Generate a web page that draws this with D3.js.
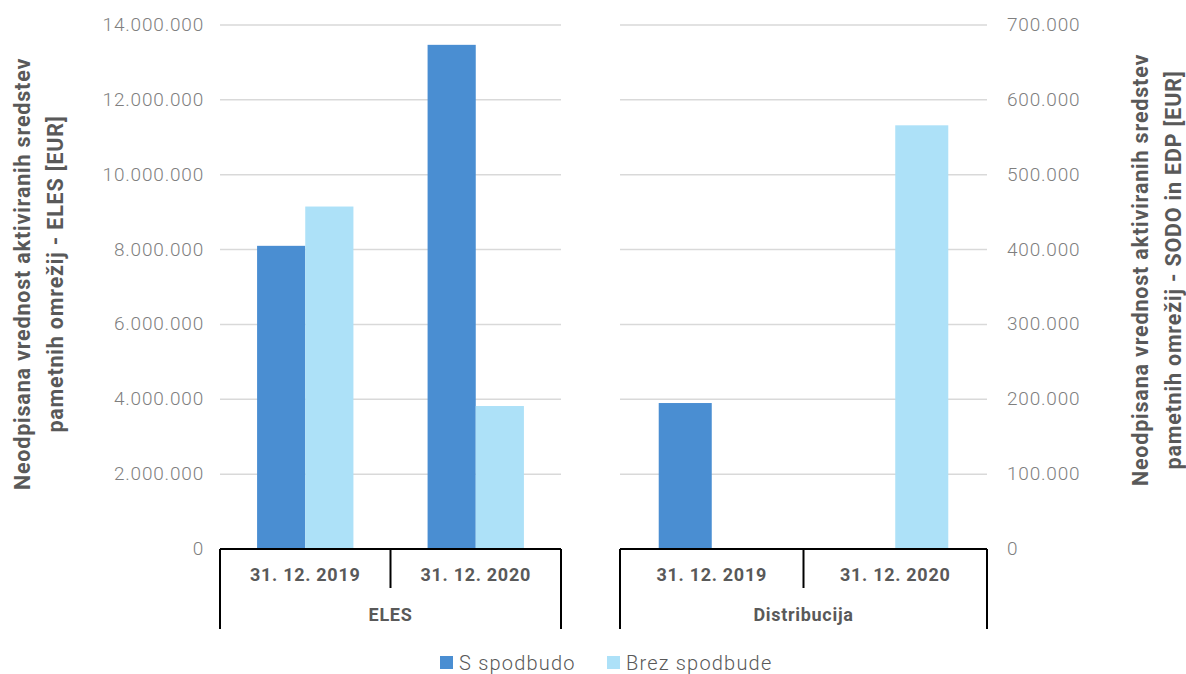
<!DOCTYPE html>
<html><head><meta charset="utf-8">
<script src="https://cdn.jsdelivr.net/npm/d3@7"></script>
<style>
body{margin:0;background:#fff;}
svg text{font-family:Roboto,"Noto Sans",sans-serif;}
</style></head>
<body><svg id="c" width="1186" height="674"></svg>
<script>
const series = ["S spodbudo", "Brez spodbude"];
const colors = ["#4A8ED2", "#ADE1F8"];
const dates = ["31. 12. 2019", "31. 12. 2020"];
const elesS = [8100000, 13470000];
const elesBrez = [9150000, 3820000];
const distS = [195000, 0];
const distBrez = [0, 566000];
const leftTicks = [0, 2000000, 4000000, 6000000, 8000000, 10000000, 12000000, 14000000];
const rightTicks = [0, 100000, 200000, 300000, 400000, 500000, 600000, 700000];
const groups = ["ELES", "Distribucija"];
const leftTitle = ["Neodpisana vrednost aktiviranih sredstev", "pametnih omrežij - ELES [EUR]"];
const rightTitle = ["Neodpisana vrednost aktiviranih sredstev", "pametnih omrežij - SODO in EDP [EUR]"];

const loc = d3.formatLocale({decimal:",", thousands:".", grouping:[3], currency:["","€"]});
const fmt = loc.format(",.0f");
const svg = d3.select("#c");
const y0 = 549, yTop = 25;
const yL = d3.scaleLinear().domain([0, 14000000]).range([y0, yTop]);
const yR = d3.scaleLinear().domain([0, 700000]).range([y0, yTop]);
const textCol = "#595959", tickCol = "#7f7f7f";

function panel(x0, x1, yScale, sVals, bVals, groupName, ratio){
  const xb = d3.scaleBand().domain(dates).range([x0, x1]).padding(0);
  const gw = xb.bandwidth()*ratio;
  const xi = d3.scaleBand().domain(series).range([0, gw]);
  svg.append("g").selectAll("line").data(yScale.ticks(7).filter(d=>d>0)).join("line")
    .attr("x1", x0).attr("x2", x1).attr("y1", d=>yScale(d)).attr("y2", d=>yScale(d))
    .attr("stroke", "#d9d9d9").attr("stroke-width", 1.5);
  const data = [];
  dates.forEach((d,i)=>{ data.push({d, s:series[0], v:sVals[i], c:colors[0]}); data.push({d, s:series[1], v:bVals[i], c:colors[1]}); });
  svg.append("g").selectAll("rect").data(data.filter(e=>e.v>0)).join("rect")
    .attr("x", e=> xb(e.d) + (xb.bandwidth()-gw)/2 + xi(e.s))
    .attr("width", xi.bandwidth())
    .attr("y", e=> yScale(e.v)).attr("height", e=> y0 - yScale(e.v))
    .attr("fill", e=>e.c);
  const g = svg.append("g").attr("stroke", "#000").attr("stroke-width", 2).attr("fill","none");
  g.append("line").attr("x1", x0).attr("x2", x1).attr("y1", y0).attr("y2", y0);
  g.append("line").attr("x1", x0).attr("x2", x0).attr("y1", y0).attr("y2", 629);
  g.append("line").attr("x1", x1).attr("x2", x1).attr("y1", y0).attr("y2", 629);
  g.append("line").attr("x1", xb(dates[1])).attr("x2", xb(dates[1])).attr("y1", y0).attr("y2", 588);
  svg.append("g").selectAll("text").data(dates).join("text")
    .attr("x", d=>xb(d)+xb.bandwidth()/2).attr("y", 581).attr("text-anchor","middle")
    .attr("font-size", 18).attr("font-weight", 700).attr("fill", textCol).attr("letter-spacing", 0.7)
    .text(d=>d);
  svg.append("text").attr("x", (x0+x1)/2).attr("y", 621).attr("text-anchor","middle")
    .attr("font-size", 18).attr("font-weight", 700).attr("fill", textCol).attr("letter-spacing", 0.7)
    .text(groupName);
}
panel(220, 561, yL, elesS, elesBrez, groups[0], 0.565);
panel(620, 987, yR, distS, distBrez, groups[1], 0.578);

svg.append("g").selectAll("text").data(leftTicks).join("text")
  .attr("x", 204).attr("y", d=>yL(d)+6).attr("text-anchor","end")
  .attr("font-size", 19).attr("font-weight", 300).attr("fill", tickCol).attr("letter-spacing", 0.8)
  .text(d=>fmt(d));
svg.append("g").selectAll("text").data(rightTicks).join("text")
  .attr("x", 1007).attr("y", d=>yR(d)+6).attr("text-anchor","start")
  .attr("font-size", 19).attr("font-weight", 300).attr("fill", tickCol).attr("letter-spacing", 0.8)
  .text(d=>fmt(d));

function title(lines, xs, cy){
  lines.forEach((t,i)=>{
    svg.append("text").attr("transform", `translate(${xs[i]},${cy}) rotate(-90)`)
      .attr("text-anchor","middle").attr("font-size", 21.5).attr("font-weight", 700)
      .attr("fill", textCol).attr("letter-spacing", 0.8).text(t);
  });
}
title(leftTitle, [30, 63], 274);
title(rightTitle, [1148, 1181], 270);

const lg = svg.append("g");
const lx = [440, 607];
series.forEach((s,i)=>{
  lg.append("rect").attr("x", lx[i]).attr("y", 656).attr("width", 13).attr("height", 13).attr("fill", colors[i]);
  lg.append("text").attr("x", lx[i]+19).attr("y", 670).attr("font-size", 20).attr("font-weight", 300)
    .attr("fill", textCol).attr("letter-spacing", 1.2).text(s);
});
</script></body></html>
